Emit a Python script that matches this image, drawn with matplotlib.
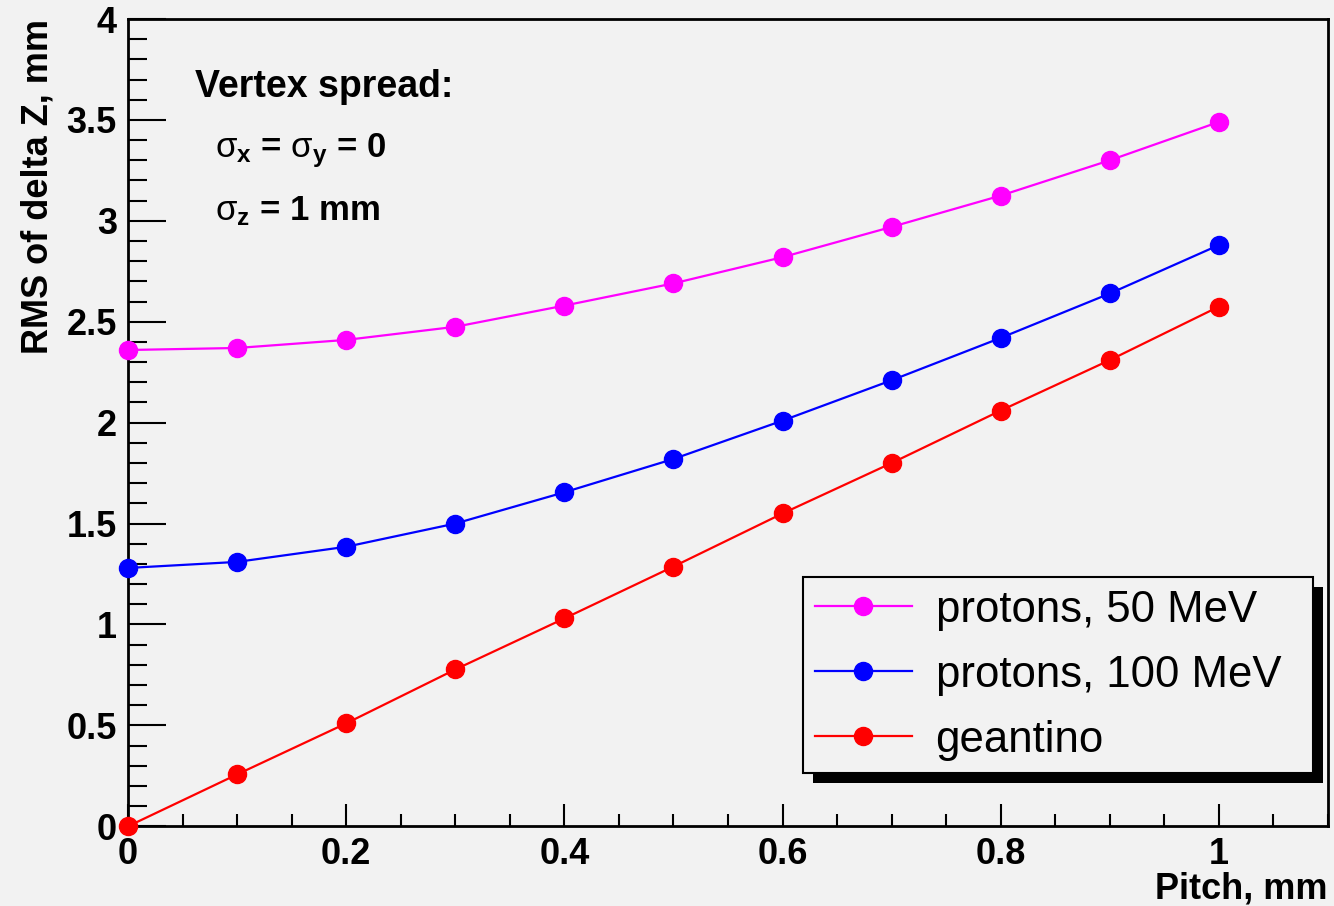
import matplotlib
matplotlib.use('Agg')
import matplotlib.pyplot as plt
from matplotlib.patches import Rectangle
from matplotlib.ticker import MultipleLocator

# data
pitch = [0.0, 0.1, 0.2, 0.3, 0.4, 0.5, 0.6, 0.7, 0.8, 0.9, 1.0]
rms_p50 = [2.36, 2.37, 2.41, 2.475, 2.58, 2.69, 2.82, 2.97, 3.125, 3.30, 3.49]
rms_p100 = [1.28, 1.31, 1.385, 1.50, 1.655, 1.82, 2.01, 2.21, 2.42, 2.64, 2.88]
rms_geant = [0.0, 0.257, 0.51, 0.777, 1.03, 1.287, 1.55, 1.80, 2.06, 2.31, 2.575]

labels = ['protons, 50 MeV', 'protons, 100 MeV', 'geantino']
colors = ['#ff00ff', '#0000ff', '#ff0000']

plt.rcParams['font.family'] = ['Liberation Sans', 'DejaVu Sans']
plt.rcParams['mathtext.fontset'] = 'custom'
plt.rcParams['mathtext.rm'] = 'Liberation Sans'
plt.rcParams['mathtext.bf'] = 'Liberation Sans:bold'
plt.rcParams['mathtext.it'] = 'Liberation Sans:italic'

bg = '#f2f2f2'
fig = plt.figure(figsize=(13.34, 9.06), dpi=100, facecolor=bg)
ax = fig.add_axes([0.096, 0.088, 0.8995, 0.891], facecolor=bg)

for ys, lab, c in zip([rms_p50, rms_p100, rms_geant], labels, colors):
    ax.plot(pitch, ys, '-o', color=c, lw=1.6, ms=13, label=lab, clip_on=False, zorder=3)

ax.set_xlim(0, 1.1)
ax.set_ylim(0, 4)
ax.xaxis.set_minor_locator(MultipleLocator(0.05))
ax.yaxis.set_minor_locator(MultipleLocator(0.1))
ax.set_xticks([0, 0.2, 0.4, 0.6, 0.8, 1.0])
ax.set_xticklabels(['0', '0.2', '0.4', '0.6', '0.8', '1'])
ax.set_yticks([0, 0.5, 1, 1.5, 2, 2.5, 3, 3.5, 4])
ax.set_yticklabels(['0', '0.5', '1', '1.5', '2', '2.5', '3', '3.5', '4'])

ax.tick_params(axis='both', which='both', direction='in', top=False, right=False, width=1.5)
ax.tick_params(axis='x', which='major', length=16, pad=8)
ax.tick_params(axis='x', which='minor', length=9)
ax.tick_params(axis='y', which='major', length=27, pad=8)
ax.tick_params(axis='y', which='minor', length=14)
for t in ax.get_xticklabels() + ax.get_yticklabels():
    t.set_fontsize(26)
    t.set_fontweight('bold')
for s in ax.spines.values():
    s.set_linewidth(2)

ax.set_ylabel('RMS of delta Z, mm', fontsize=26, fontweight='bold', loc='top', labelpad=8)
ax.text(1.0, -0.089, 'Pitch, mm', transform=ax.transAxes, fontsize=26, fontweight='bold',
        ha='right', va='baseline')

ax.text(0.056, 0.903, 'Vertex spread:', transform=ax.transAxes, fontsize=27,
        fontweight='bold', va='baseline')
ax.text(0.0725, 0.829, r'$\mathrm{\sigma}_\mathbf{x}$ = $\mathrm{\sigma}_\mathbf{y}$ = 0',
        transform=ax.transAxes, fontsize=25, fontweight='bold', va='baseline')
ax.text(0.0725, 0.751, r'$\mathrm{\sigma}_\mathbf{z}$ = 1 mm',
        transform=ax.transAxes, fontsize=25, fontweight='bold', va='baseline')

leg = ax.legend(loc='lower left', bbox_to_anchor=(0.5625, 0.066, 0.425, 0.245), mode='expand',
                fontsize=31.5, frameon=True, fancybox=False, framealpha=1, facecolor=bg,
                edgecolor='black', borderpad=0.28, labelspacing=0.55, handlelength=2.2,
                handletextpad=0.55, borderaxespad=0)
leg.get_frame().set_linewidth(1.5)
leg.set_zorder(5)

# black drop shadow behind the legend box
fig.canvas.draw()
bb = leg.get_window_extent()
inv = ax.transAxes.inverted()
(x0, y0), (x1, y1) = inv.transform([[bb.x0 + 10, bb.y0 - 10], [bb.x1 + 10, bb.y1 - 10]])
ax.add_patch(Rectangle((x0, y0), x1 - x0, y1 - y0, transform=ax.transAxes,
                       facecolor='black', edgecolor='none', zorder=4, clip_on=False))

fig.savefig('out.png', dpi=100, facecolor=bg)
